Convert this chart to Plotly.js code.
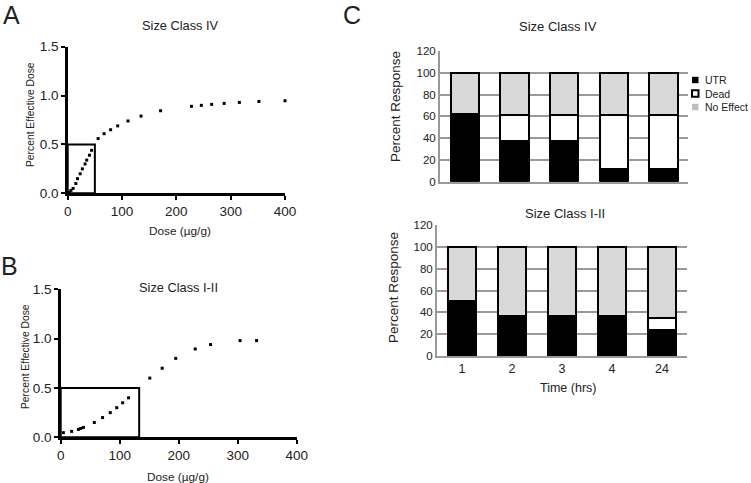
<!DOCTYPE html>
<html>
<head>
<meta charset="utf-8">
<script src="https://cdn.plot.ly/plotly-3.0.1.min.js"></script>
<style>html,body{margin:0;padding:0;background:#fff;}#chart{width:751px;height:483px;}</style>
</head>
<body>
<div id="chart"></div>
<script>
// ---- Panel A: Size Class IV dose-response ----
const doseA = [3, 6, 10, 15, 18, 23, 27, 32, 35, 40, 44, 56, 67, 79, 92, 111, 135, 171, 228, 246, 265, 288, 316, 352, 400];
const effA  = [0.01, 0.03, 0.05, 0.10, 0.15, 0.20, 0.25, 0.30, 0.34, 0.39, 0.44, 0.56, 0.61, 0.65, 0.69, 0.74, 0.79, 0.845, 0.89, 0.90, 0.91, 0.92, 0.93, 0.94, 0.947];
// ---- Panel B: Size Class I-II dose-response ----
const doseB = [4.5, 18.6, 30, 34, 38.5, 57, 71, 84, 95, 105, 115, 151, 172, 195, 228, 254, 304, 332];
const effB  = [0.047, 0.06, 0.08, 0.09, 0.10, 0.15, 0.20, 0.25, 0.30, 0.35, 0.40, 0.60, 0.70, 0.80, 0.895, 0.94, 0.98, 0.98];
// ED50 boxes
const ed50Dose = [50, 133];
const ed50Level = 0.5;
// ---- Panel C: percent response over time ----
const times = ['1', '2', '3', '4', '24'];
const utrIV    = [62, 37, 37, 12, 12];
const deadIV   = [0, 24, 24, 49, 49];
const noEffIV  = [38, 39, 39, 39, 39];
const utrI     = [50, 37, 37, 37, 24];
const deadI    = [0, 0, 0, 0, 11];
const noEffI   = [50, 63, 63, 63, 65];
const seriesNames = ['UTR', 'Dead', 'No Effect'];
const seriesColors = ['#000000', '#ffffff', '#d9d9d9'];
const legendColors = ['#000000', '#ffffff', '#bdbdbd'];

const FONT = 'Arial, "Liberation Sans", Helvetica, sans-serif';
const TXT = '#222';

const traces = [
  {x: doseA, y: effA, type: 'scatter', mode: 'markers', xaxis: 'x', yaxis: 'y',
   marker: {symbol: 'square', size: 3, color: '#000'}, cliponaxis: false, showlegend: false},
  {x: doseB, y: effB, type: 'scatter', mode: 'markers', xaxis: 'x2', yaxis: 'y2',
   marker: {symbol: 'square', size: 3, color: '#000'}, cliponaxis: false, showlegend: false}
];
const topSets = [utrIV, deadIV, noEffIV];
const botSets = [utrI, deadI, noEffI];
topSets.forEach((vals, i) => traces.push({
  x: times, y: vals, type: 'bar', name: seriesNames[i], xaxis: 'x3', yaxis: 'y3',
  marker: {color: seriesColors[i], line: {color: '#000', width: 2}}, showlegend: false
}));
botSets.forEach((vals, i) => traces.push({
  x: times, y: vals, type: 'bar', name: seriesNames[i], xaxis: 'x4', yaxis: 'y4',
  marker: {color: seriesColors[i], line: {color: '#000', width: 2}}, showlegend: false
}));

const W = 751, H = 483;
const px = v => v / W, py = v => (H - v) / H;

function doseX(dom) {
  return {domain: dom, range: [0, 400], dtick: 100, showline: true, linewidth: 2.5, linecolor: '#000',
    ticks: 'outside', ticklen: 4, tickwidth: 2, tickcolor: '#000', showgrid: false, zeroline: false,
    tickfont: {family: FONT, size: 13.5, color: TXT}, fixedrange: true};
}
function doseY(dom, anchor) {
  return {domain: dom, range: [0, 1.5], dtick: 0.5, tickformat: '.1f', showline: true, linewidth: 2.5, linecolor: '#000',
    ticks: 'outside', ticklen: 4, tickwidth: 2, tickcolor: '#000', showgrid: false, zeroline: false, anchor: anchor,
    tickfont: {family: FONT, size: 13.5, color: TXT}, ticklabelstandoff: 0};
}
function timeX(dom, anchor, labels) {
  return {domain: dom, anchor: anchor, type: 'category', showline: true, linecolor: '#999', linewidth: 2,
    ticks: '', showgrid: false, zeroline: false, showticklabels: labels,
    tickfont: {family: FONT, size: 12.5, color: TXT}};
}
function pctY(dom, anchor) {
  return {domain: dom, anchor: anchor, range: [0, 120], dtick: 20, showline: true, linecolor: '#999', linewidth: 2,
    showgrid: true, gridcolor: '#999', gridwidth: 2, zeroline: false, ticks: '',
    tickfont: {family: FONT, size: 11.5, color: TXT}};
}

const ann = (text, x, y, size, extra) => Object.assign({
  text: text, x: x, y: y, xref: 'paper', yref: 'paper', showarrow: false,
  xanchor: 'center', yanchor: 'middle', font: {family: FONT, size: size, color: TXT}
}, extra || {});

const annotations = [
  ann('A', px(11), py(15), 25),
  ann('B', px(9), py(266), 25),
  ann('C', px(352), py(15), 25),
  ann('Size Class IV', px(180), py(26), 12.8),
  ann('Dose (µg/g)', px(180), py(231), 11.8),
  ann('Percent Effective Dose', px(30), py(115), 10.3, {textangle: -90}),
  ann('Size Class I-II', px(178), py(287), 12.8),
  ann('Dose (µg/g)', px(178), py(477), 11.8),
  ann('Percent Effective Dose', px(25), py(357), 10.3, {textangle: -90}),
  ann('Size Class IV', px(558), py(27), 13),
  ann('Percent Response', px(395), py(107), 13.5, {textangle: -90}),
  ann('Size Class I-II', px(565), py(213), 13),
  ann('Percent Response', px(393), py(287), 13.5, {textangle: -90}),
  ann('Time (hrs)', px(568), py(388), 12.5)
];
const shapes = [
  {type: 'rect', xref: 'x', yref: 'y', x0: 0, x1: ed50Dose[0], y0: 0, y1: ed50Level, line: {color: '#000', width: 2}},
  {type: 'rect', xref: 'x2', yref: 'y2', x0: 0, x1: ed50Dose[1], y0: 0, y1: ed50Level, line: {color: '#000', width: 2}}
];
// legend for panel C
seriesNames.forEach((name, i) => {
  const cy = 80 + i * 13.5;
  shapes.push({type: 'rect', xref: 'paper', yref: 'paper', x0: px(692), x1: px(698.5), y0: py(cy + 3.2), y1: py(cy - 3.2),
    fillcolor: legendColors[i], line: {color: i === 1 ? '#000' : legendColors[i], width: i === 1 ? 2 : 0}});
  annotations.push(ann(name, px(704), py(cy), 10.5, {xanchor: 'left', borderpad: 0}));
});

const layout = {
  width: W, height: H, margin: {l: 0, r: 0, t: 0, b: 0},
  paper_bgcolor: '#fff', plot_bgcolor: 'rgba(0,0,0,0)', showlegend: false,
  barmode: 'stack', bargap: 0.43,
  font: {family: FONT, color: TXT},
  xaxis: doseX([px(67.7), px(285)]),
  yaxis: doseY([py(193.3), py(46.7)], 'x'),
  xaxis2: Object.assign(doseX([px(60.7), px(296.7)]), {anchor: 'y2'}),
  yaxis2: doseY([py(437.3), py(289.3)], 'x2'),
  xaxis3: timeX([px(440), px(688.3)], 'y3', false),
  yaxis3: pctY([py(181.7), py(51)], 'x3'),
  xaxis4: timeX([px(437), px(687)], 'y4', true),
  yaxis4: pctY([py(356), py(225)], 'x4'),
  annotations: annotations,
  shapes: shapes
};
layout.xaxis.anchor = 'y';

Plotly.newPlot('chart', traces, layout, {staticPlot: true, displayModeBar: false});
</script>
</body>
</html>
